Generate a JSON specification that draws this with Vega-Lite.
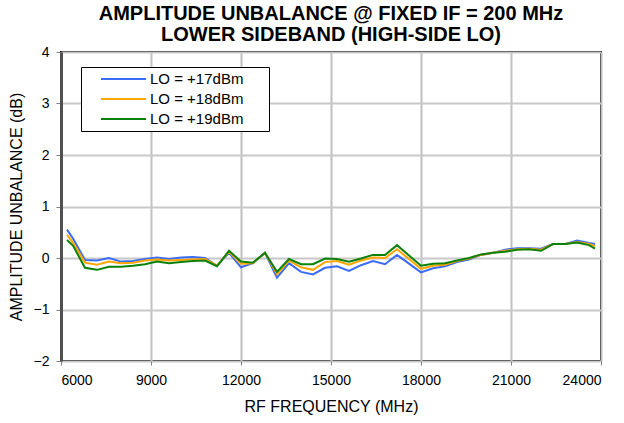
{
  "$schema": "https://vega.github.io/schema/vega-lite/v6.json",
  "width": 540,
  "height": 309,
  "autosize": "none",
  "padding": {"left": 61, "top": 52, "right": 23, "bottom": 62},
  "background": "white",
  "title": {
    "text": ["AMPLITUDE UNBALANCE @ FIXED IF = 200 MHz", "LOWER SIDEBAND (HIGH-SIDE LO)"],
    "font": "Arial",
    "fontSize": 20,
    "fontWeight": "bold",
    "color": "black",
    "anchor": "middle",
    "offset": 0,
    "lineHeight": 21
  },
  "config": {
    "view": {"stroke": "black", "strokeWidth": 2},
    "font": "Arial"
  },
  "data": {
    "values": [
      {"f": 6200, "v": 0.55, "s": "LO = +17dBm"}, {"f": 6200, "v": 0.45, "s": "LO = +18dBm"}, {"f": 6200, "v": 0.35, "s": "LO = +19dBm"},
      {"f": 6400, "v": 0.38, "s": "LO = +17dBm"}, {"f": 6400, "v": 0.30, "s": "LO = +18dBm"}, {"f": 6400, "v": 0.24, "s": "LO = +19dBm"},
      {"f": 6800, "v": -0.04, "s": "LO = +17dBm"}, {"f": 6800, "v": -0.09, "s": "LO = +18dBm"}, {"f": 6800, "v": -0.19, "s": "LO = +19dBm"},
      {"f": 7200, "v": -0.05, "s": "LO = +17dBm"}, {"f": 7200, "v": -0.13, "s": "LO = +18dBm"}, {"f": 7200, "v": -0.23, "s": "LO = +19dBm"},
      {"f": 7600, "v": 0.00, "s": "LO = +17dBm"}, {"f": 7600, "v": -0.07, "s": "LO = +18dBm"}, {"f": 7600, "v": -0.17, "s": "LO = +19dBm"},
      {"f": 8000, "v": -0.07, "s": "LO = +17dBm"}, {"f": 8000, "v": -0.10, "s": "LO = +18dBm"}, {"f": 8000, "v": -0.17, "s": "LO = +19dBm"},
      {"f": 8400, "v": -0.06, "s": "LO = +17dBm"}, {"f": 8400, "v": -0.09, "s": "LO = +18dBm"}, {"f": 8400, "v": -0.15, "s": "LO = +19dBm"},
      {"f": 8800, "v": -0.02, "s": "LO = +17dBm"}, {"f": 8800, "v": -0.05, "s": "LO = +18dBm"}, {"f": 8800, "v": -0.12, "s": "LO = +19dBm"},
      {"f": 9200, "v": 0.01, "s": "LO = +17dBm"}, {"f": 9200, "v": -0.03, "s": "LO = +18dBm"}, {"f": 9200, "v": -0.07, "s": "LO = +19dBm"},
      {"f": 9600, "v": -0.02, "s": "LO = +17dBm"}, {"f": 9600, "v": -0.05, "s": "LO = +18dBm"}, {"f": 9600, "v": -0.10, "s": "LO = +19dBm"},
      {"f": 10000, "v": 0.01, "s": "LO = +17dBm"}, {"f": 10000, "v": -0.04, "s": "LO = +18dBm"}, {"f": 10000, "v": -0.08, "s": "LO = +19dBm"},
      {"f": 10400, "v": 0.02, "s": "LO = +17dBm"}, {"f": 10400, "v": -0.03, "s": "LO = +18dBm"}, {"f": 10400, "v": -0.06, "s": "LO = +19dBm"},
      {"f": 10800, "v": 0.00, "s": "LO = +17dBm"}, {"f": 10800, "v": -0.02, "s": "LO = +18dBm"}, {"f": 10800, "v": -0.05, "s": "LO = +19dBm"},
      {"f": 11200, "v": -0.15, "s": "LO = +17dBm"}, {"f": 11200, "v": -0.15, "s": "LO = +18dBm"}, {"f": 11200, "v": -0.16, "s": "LO = +19dBm"},
      {"f": 11600, "v": 0.10, "s": "LO = +17dBm"}, {"f": 11600, "v": 0.12, "s": "LO = +18dBm"}, {"f": 11600, "v": 0.14, "s": "LO = +19dBm"},
      {"f": 12000, "v": -0.18, "s": "LO = +17dBm"}, {"f": 12000, "v": -0.11, "s": "LO = +18dBm"}, {"f": 12000, "v": -0.07, "s": "LO = +19dBm"},
      {"f": 12400, "v": -0.10, "s": "LO = +17dBm"}, {"f": 12400, "v": -0.10, "s": "LO = +18dBm"}, {"f": 12400, "v": -0.09, "s": "LO = +19dBm"},
      {"f": 12800, "v": 0.10, "s": "LO = +17dBm"}, {"f": 12800, "v": 0.10, "s": "LO = +18dBm"}, {"f": 12800, "v": 0.10, "s": "LO = +19dBm"},
      {"f": 13200, "v": -0.38, "s": "LO = +17dBm"}, {"f": 13200, "v": -0.31, "s": "LO = +18dBm"}, {"f": 13200, "v": -0.27, "s": "LO = +19dBm"},
      {"f": 13600, "v": -0.10, "s": "LO = +17dBm"}, {"f": 13600, "v": -0.05, "s": "LO = +18dBm"}, {"f": 13600, "v": -0.02, "s": "LO = +19dBm"},
      {"f": 14000, "v": -0.27, "s": "LO = +17dBm"}, {"f": 14000, "v": -0.18, "s": "LO = +18dBm"}, {"f": 14000, "v": -0.12, "s": "LO = +19dBm"},
      {"f": 14400, "v": -0.32, "s": "LO = +17dBm"}, {"f": 14400, "v": -0.23, "s": "LO = +18dBm"}, {"f": 14400, "v": -0.12, "s": "LO = +19dBm"},
      {"f": 14800, "v": -0.19, "s": "LO = +17dBm"}, {"f": 14800, "v": -0.08, "s": "LO = +18dBm"}, {"f": 14800, "v": -0.01, "s": "LO = +19dBm"},
      {"f": 15200, "v": -0.16, "s": "LO = +17dBm"}, {"f": 15200, "v": -0.06, "s": "LO = +18dBm"}, {"f": 15200, "v": -0.02, "s": "LO = +19dBm"},
      {"f": 15600, "v": -0.25, "s": "LO = +17dBm"}, {"f": 15600, "v": -0.13, "s": "LO = +18dBm"}, {"f": 15600, "v": -0.07, "s": "LO = +19dBm"},
      {"f": 16000, "v": -0.14, "s": "LO = +17dBm"}, {"f": 16000, "v": -0.05, "s": "LO = +18dBm"}, {"f": 16000, "v": -0.01, "s": "LO = +19dBm"},
      {"f": 16400, "v": -0.06, "s": "LO = +17dBm"}, {"f": 16400, "v": 0.01, "s": "LO = +18dBm"}, {"f": 16400, "v": 0.06, "s": "LO = +19dBm"},
      {"f": 16800, "v": -0.12, "s": "LO = +17dBm"}, {"f": 16800, "v": 0.00, "s": "LO = +18dBm"}, {"f": 16800, "v": 0.06, "s": "LO = +19dBm"},
      {"f": 17200, "v": 0.06, "s": "LO = +17dBm"}, {"f": 17200, "v": 0.17, "s": "LO = +18dBm"}, {"f": 17200, "v": 0.25, "s": "LO = +19dBm"},
      {"f": 17600, "v": -0.11, "s": "LO = +17dBm"}, {"f": 17600, "v": -0.02, "s": "LO = +18dBm"}, {"f": 17600, "v": 0.05, "s": "LO = +19dBm"},
      {"f": 18000, "v": -0.28, "s": "LO = +17dBm"}, {"f": 18000, "v": -0.21, "s": "LO = +18dBm"}, {"f": 18000, "v": -0.15, "s": "LO = +19dBm"},
      {"f": 18400, "v": -0.20, "s": "LO = +17dBm"}, {"f": 18400, "v": -0.15, "s": "LO = +18dBm"}, {"f": 18400, "v": -0.11, "s": "LO = +19dBm"},
      {"f": 18800, "v": -0.16, "s": "LO = +17dBm"}, {"f": 18800, "v": -0.13, "s": "LO = +18dBm"}, {"f": 18800, "v": -0.10, "s": "LO = +19dBm"},
      {"f": 19200, "v": -0.08, "s": "LO = +17dBm"}, {"f": 19200, "v": -0.06, "s": "LO = +18dBm"}, {"f": 19200, "v": -0.05, "s": "LO = +19dBm"},
      {"f": 19600, "v": -0.03, "s": "LO = +17dBm"}, {"f": 19600, "v": -0.01, "s": "LO = +18dBm"}, {"f": 19600, "v": 0.00, "s": "LO = +19dBm"},
      {"f": 20000, "v": 0.06, "s": "LO = +17dBm"}, {"f": 20000, "v": 0.06, "s": "LO = +18dBm"}, {"f": 20000, "v": 0.07, "s": "LO = +19dBm"},
      {"f": 20400, "v": 0.10, "s": "LO = +17dBm"}, {"f": 20400, "v": 0.10, "s": "LO = +18dBm"}, {"f": 20400, "v": 0.10, "s": "LO = +19dBm"},
      {"f": 20800, "v": 0.16, "s": "LO = +17dBm"}, {"f": 20800, "v": 0.14, "s": "LO = +18dBm"}, {"f": 20800, "v": 0.12, "s": "LO = +19dBm"},
      {"f": 21200, "v": 0.19, "s": "LO = +17dBm"}, {"f": 21200, "v": 0.17, "s": "LO = +18dBm"}, {"f": 21200, "v": 0.16, "s": "LO = +19dBm"},
      {"f": 21600, "v": 0.19, "s": "LO = +17dBm"}, {"f": 21600, "v": 0.18, "s": "LO = +18dBm"}, {"f": 21600, "v": 0.17, "s": "LO = +19dBm"},
      {"f": 22000, "v": 0.18, "s": "LO = +17dBm"}, {"f": 22000, "v": 0.16, "s": "LO = +18dBm"}, {"f": 22000, "v": 0.14, "s": "LO = +19dBm"},
      {"f": 22400, "v": 0.27, "s": "LO = +17dBm"}, {"f": 22400, "v": 0.27, "s": "LO = +18dBm"}, {"f": 22400, "v": 0.27, "s": "LO = +19dBm"},
      {"f": 22800, "v": 0.27, "s": "LO = +17dBm"}, {"f": 22800, "v": 0.27, "s": "LO = +18dBm"}, {"f": 22800, "v": 0.27, "s": "LO = +19dBm"},
      {"f": 23200, "v": 0.34, "s": "LO = +17dBm"}, {"f": 23200, "v": 0.31, "s": "LO = +18dBm"}, {"f": 23200, "v": 0.30, "s": "LO = +19dBm"},
      {"f": 23600, "v": 0.29, "s": "LO = +17dBm"}, {"f": 23600, "v": 0.27, "s": "LO = +18dBm"}, {"f": 23600, "v": 0.25, "s": "LO = +19dBm"},
      {"f": 23800, "v": 0.27, "s": "LO = +17dBm"}, {"f": 23800, "v": 0.23, "s": "LO = +18dBm"}, {"f": 23800, "v": 0.18, "s": "LO = +19dBm"}
    ]
  },
  "mark": {"type": "line", "strokeWidth": 2, "clip": true},
  "encoding": {
    "x": {
      "field": "f",
      "type": "quantitative",
      "scale": {"domain": [6000, 24000], "nice": false},
      "axis": {
        "title": "RF FREQUENCY (MHz)",
        "values": [6000, 9000, 12000, 15000, 18000, 21000, 24000],
        "format": "d",
        "grid": true,
        "gridColor": "#c0c0c0",
        "gridWidth": 2,
        "domain": false,
        "ticks": true,
        "tickSize": 4,
        "tickColor": "#808080",
        "tickWidth": 1,
        "labelPadding": 8,
        "labelFont": "Arial",
        "labelFontSize": 14,
        "labelColor": "black",
        "titleFont": "Arial",
        "titleFontSize": 16,
        "titleFontWeight": "normal",
        "titleColor": "black",
        "titlePadding": 11
      }
    },
    "y": {
      "field": "v",
      "type": "quantitative",
      "scale": {"domain": [-2, 4], "nice": false},
      "axis": {
        "title": "AMPLITUDE UNBALANCE (dB)",
        "values": [-2, -1, 0, 1, 2, 3, 4],
        "grid": true,
        "gridColor": "#c8c8c8",
        "gridWidth": 2,
        "domain": true,
        "domainColor": "#505050",
        "domainWidth": 3,
        "ticks": true,
        "tickSize": 5,
        "tickColor": "#808080",
        "tickWidth": 1,
        "labelPadding": 7,
        "labelFont": "Arial",
        "labelFontSize": 14,
        "labelColor": "black",
        "titleFont": "Arial",
        "titleFontSize": 16,
        "titleFontWeight": "normal",
        "titleColor": "black",
        "titlePadding": 9
      }
    },
    "color": {
      "field": "s",
      "type": "nominal",
      "scale": {
        "domain": ["LO = +17dBm", "LO = +18dBm", "LO = +19dBm"],
        "range": ["#3a6cf4", "#ffa500", "#0a820a"]
      },
      "legend": {
        "title": "X",
        "titleOrient": "left",
        "titleFontSize": 14,
        "titleOpacity": 0,
        "titlePadding": 6,
        "orient": "none",
        "legendX": 20,
        "legendY": 15,
        "direction": "vertical",
        "strokeColor": "black",
        "fillColor": "white",
        "padding": 3,
        "symbolType": "stroke",
        "symbolSize": 2025,
        "symbolStrokeWidth": 2,
        "clipHeight": 18,
        "labelExpr": "datum.label + '\u2800\u2800'",
        "labelFont": "Arial",
        "labelFontSize": 15,
        "labelColor": "black",
        "labelOffset": 3,
        "labelLimit": 300,
        "rowPadding": 2,
        "offset": 0
      }
    },
    "order": {"field": "f"}
  }
}
